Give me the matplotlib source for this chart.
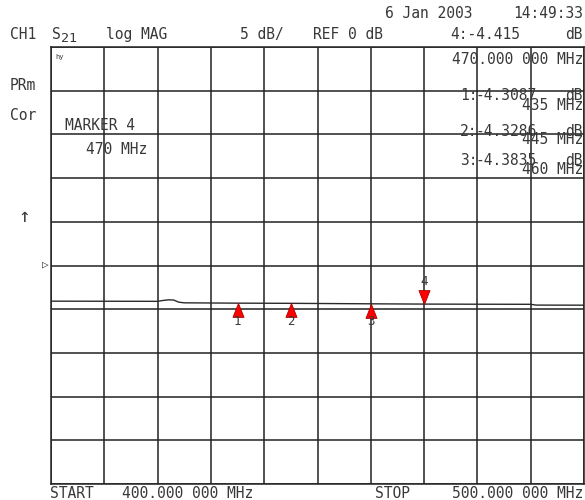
import matplotlib
matplotlib.use('Agg')
import matplotlib.pyplot as plt
from matplotlib.path import Path

freq_mhz = [400, 410, 420, 421, 422, 423, 424, 425, 435, 445, 460, 470, 480, 490, 491, 500]
trace_db = [-4.08, -4.09, -4.10, -4.00, -3.93, -3.95, -4.20, -4.27,
            -4.3087, -4.3286, -4.3835, -4.415, -4.43, -4.44, -4.53, -4.54]

# Marqueurs
mk_num = ['1', '2', '3', '4']
mk_freq = [435, 445, 460, 470]
mk_db = [-4.3087, -4.3286, -4.3835, -4.415]
mk_txt = ['-4.3087', '-4.3286', '-4.3835']
mk_ftxt = ['435 MHz', '445 MHz', '460 MHz']
actif = 3  # marqueur 4

# Échelle de l'écran
f_start, f_stop = 400, 500
ref_db, db_div, n_div = 0, 5, 10

W, H = 585, 500
ENCRE = '#383838'
plt.rcParams['font.family'] = ['DejaVu Sans Mono', 'DejaVu Sans']


def px(x, y):
    # coordonnées en pixels (origine en haut à gauche) -> figure
    return x / W, 1 - y / H


def txt(x, y, s, ha='left', size=10.5, **kw):
    fig.text(*px(x, y), s, ha=ha, va='center', fontsize=size, color=ENCRE, **kw)


fig = plt.figure(figsize=(W / 100, H / 100), dpi=100)
fig.patch.set_facecolor('white')
ax = fig.add_axes([51 / W, 1 - 484 / H, 533 / W, 437 / H])

ax.set_xlim(f_start, f_stop)
ax.set_ylim(ref_db - db_div * n_div / 2, ref_db + db_div * n_div / 2)
ax.set_xticks([f_start + i * (f_stop - f_start) / n_div for i in range(n_div + 1)])
ax.set_yticks([ref_db + db_div * (i - n_div / 2) for i in range(n_div + 1)])
ax.tick_params(length=0, labelbottom=False, labelleft=False)
ax.grid(True, color='#222222', lw=1.1)
for sp in ax.spines.values():
    sp.set_color('#222222')
    sp.set_linewidth(1.1)

ax.plot(freq_mhz, trace_db, color='#2a2a2a', lw=1.0)

# triangles dont la pointe touche la trace
haut = Path([(0, 0), (-0.4, -1), (0.4, -1), (0, 0)],
            [Path.MOVETO, Path.LINETO, Path.LINETO, Path.CLOSEPOLY])
bas = Path([(0, 0), (-0.4, 1), (0.4, 1), (0, 0)],
           [Path.MOVETO, Path.LINETO, Path.LINETO, Path.CLOSEPOLY])
for i, (f, v, n) in enumerate(zip(mk_freq, mk_db, mk_num)):
    if i == actif:
        ax.plot([f], [v], marker=bas, ms=20, color='red', mec='#aa0000', mew=0.6)
        ax.annotate(n, (f, v), xytext=(0, 16), textcoords='offset points',
                    ha='center', va='center', fontsize=9, color=ENCRE)
    else:
        ax.plot([f], [v], marker=haut, ms=20, color='red', mec='#aa0000', mew=0.6)
        ax.annotate(n, (f, v), xytext=(0, -13), textcoords='offset points',
                    ha='center', va='center', fontsize=9, color=ENCRE)

# En-tête
txt(385, 14, '6 Jan 2003')
txt(583, 14, '14:49:33', ha='right')
txt(10, 34, 'CH1')
txt(52, 34, 'S')
txt(61, 39, '21', size=9.5)
txt(106, 34, 'log MAG')
txt(240, 34, '5 dB/')
txt(313, 34, 'REF 0 dB')
txt(450, 34, '4:-4.415')
txt(583, 34, 'dB', ha='right')

# Colonne de gauche
txt(10, 85, 'PRm')
txt(10, 115, 'Cor')
txt(18, 217, '↑', size=14)
txt(42, 265, '▷', size=8)

# Dans la grille
txt(55, 57, 'hy', size=5)
txt(583, 60, '470.000 000 MHz', ha='right')
txt(65, 125, 'MARKER 4')
txt(86, 149, '470 MHz')
lignes = [96, 131, 160]
for n, v, f, y in zip(mk_num, mk_txt, mk_ftxt, lignes):
    txt(460, y, n + ':')
    txt(476, y, v)
    txt(583, y, 'dB', ha='right')
    txt(583, y + 9, f, ha='right')

# Bas
txt(50, 493, 'START')
txt(122, 493, '400.000 000 MHz')
txt(375, 493, 'STOP')
txt(583, 493, '500.000 000 MHz', ha='right')

fig.savefig('out.png', dpi=100, facecolor='white')
